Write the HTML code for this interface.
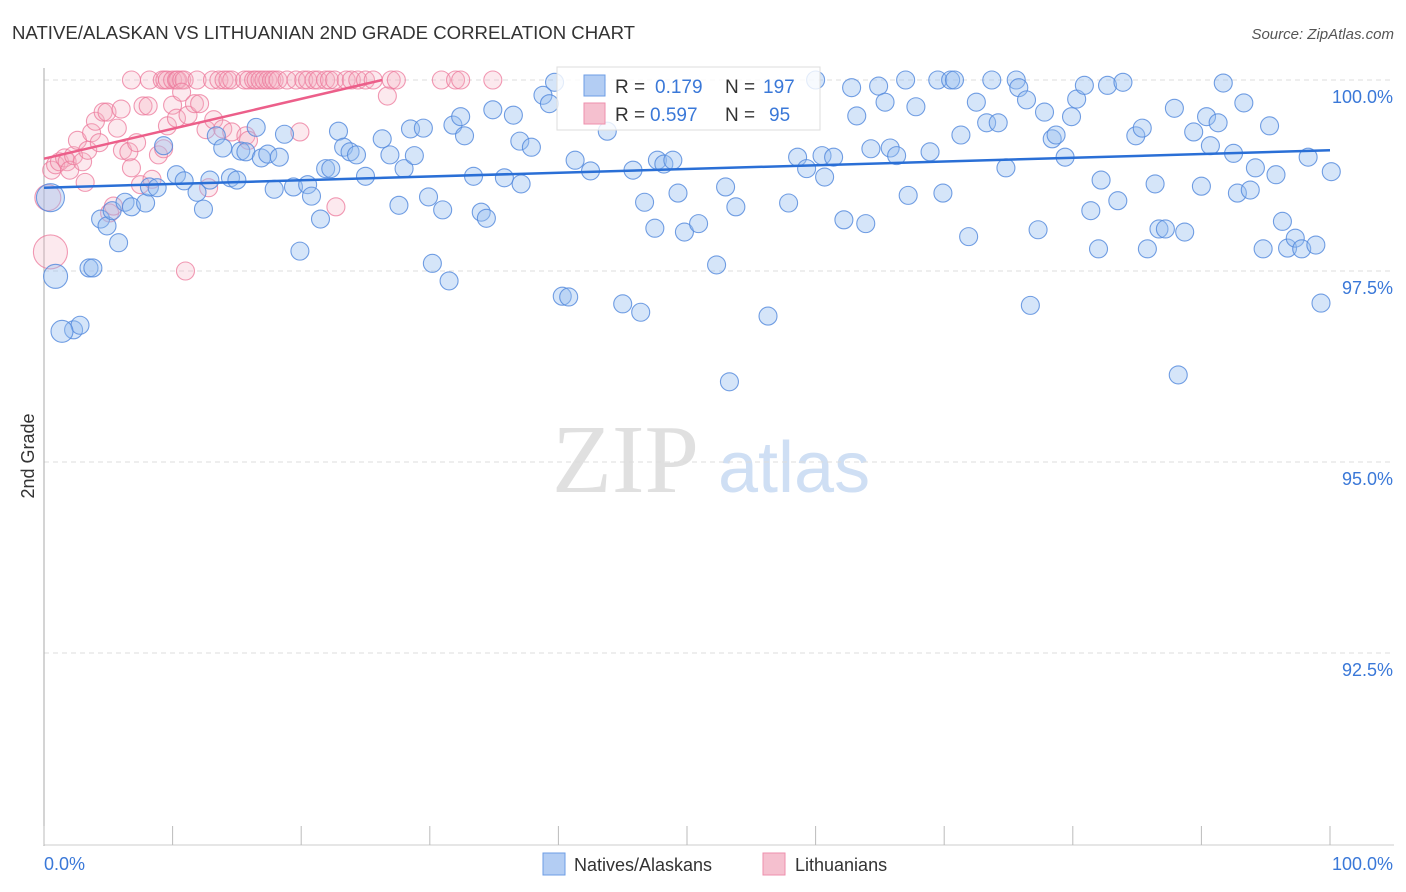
<!DOCTYPE html>
<html><head><meta charset="utf-8"><style>
body{margin:0;background:#fff;width:1406px;height:892px;overflow:hidden;font-family:"Liberation Sans",sans-serif}
svg{position:absolute;left:0;top:0}
</style></head><body>
<svg id="chart" width="1406" height="892">
<text x="12" y="39" font-size="18.6" fill="#333">NATIVE/ALASKAN VS LITHUANIAN 2ND GRADE CORRELATION CHART</text>
<text x="1394" y="39" font-size="15" fill="#555" font-style="italic" text-anchor="end">Source: ZipAtlas.com</text>
<g>
<text x="552" y="492" font-size="98" font-family="Liberation Serif,serif" fill="#e0e0e0">ZIP</text>
<text x="718" y="492" font-size="72" fill="#cfdff4">atlas</text>
</g>
<g id="grid"></g>
<g id="axes"></g>
<g id="pink"></g>
<g id="blue"></g>
<g id="trends"></g>
<g>
<rect x="557" y="67" width="263" height="63" fill="rgba(255,255,255,0.8)" stroke="#ddd"/>
<rect x="584" y="75" width="21" height="21" fill="#b3cdf3" stroke="#6d9de6"/>
<rect x="584" y="103" width="21" height="21" fill="#f5c0cf" stroke="#ee8fac"/>
<text x="615" y="93" font-size="19" fill="#333">R = </text><text x="655" y="93" font-size="19" fill="#3a78d8">0.179</text>
<text x="725" y="93" font-size="19" fill="#333">N =</text><text x="763" y="93" font-size="19" fill="#3a78d8">197</text>
<text x="615" y="121" font-size="19" fill="#333">R = </text><text x="650" y="121" font-size="19" fill="#3a78d8">0.597</text>
<text x="725" y="121" font-size="19" fill="#333">N =</text><text x="769" y="121" font-size="19" fill="#3a78d8">95</text>
</g>
<g>
<rect x="543" y="853" width="22" height="22" fill="#b3cdf3" stroke="#6d9de6"/>
<text x="574" y="871" font-size="18" fill="#333">Natives/Alaskans</text>
<rect x="763" y="853" width="22" height="22" fill="#f5c0cf" stroke="#ee8fac"/>
<text x="795" y="871" font-size="18" fill="#333">Lithuanians</text>
</g>
<text transform="translate(34,456) rotate(-90)" font-size="18" fill="#333" text-anchor="middle">2nd Grade</text>
</svg>
<script>
const yTicks=[100,97.5,95,92.5];
const yTickLabels=["100.0%","97.5%","95.0%","92.5%"];
const xEndLabels=["0.0%","100.0%"];
const blueX=[2.3,2.8,3.5,3.8,4.4,4.9,5.3,5.8,6.3,6.8,7.9,8.2,8.8,9.3,10.3,10.9,11.9,12.4,12.9,13.4,13.9,14.5,15.0,15.3,15.7,16.5,16.9,17.4,17.9,18.3,18.7,19.4,19.9,20.5,20.8,21.5,21.9,22.3,22.9,23.3,23.8,24.3,25.0,26.3,26.9,27.6,28.0,28.5,28.8,29.5,29.9,30.2,31.0,31.5,31.8,32.4,32.7,33.4,34.0,34.4,34.9,35.8,36.5,37.1,37.0,37.9,38.8,39.3,39.7,40.3,40.8,41.3,42.5,43.8,45.0,45.8,46.4,46.7,47.5,47.7,48.2,48.9,49.3,49.8,50.9,52.3,53.0,53.3,53.8,56.3,57.9,58.6,59.3,60.0,60.5,60.7,61.4,62.2,62.8,63.2,63.9,64.3,64.9,65.4,65.8,66.3,67.0,67.2,67.8,68.9,69.5,69.9,70.5,70.8,71.3,71.9,72.5,73.3,73.7,74.2,74.8,75.6,75.8,76.4,77.3,77.8,76.7,78.4,78.7,79.4,79.9,80.3,80.9,81.4,82.0,82.2,82.7,83.5,83.9,84.9,85.4,85.8,86.4,86.7,87.2,88.2,88.7,87.9,89.4,90.0,90.4,90.7,91.3,91.7,92.5,92.8,93.3,93.8,94.2,94.8,95.3,95.8,96.3,96.7,97.3,97.8,98.3,98.9,99.3,100.1];
const blueY=[96.73,96.79,97.54,97.54,98.18,98.09,98.29,97.87,98.40,98.34,98.39,98.60,98.59,99.14,98.76,98.68,98.53,98.31,98.69,99.27,99.11,98.72,98.69,99.07,99.06,99.38,98.98,99.03,98.57,98.99,99.29,98.60,97.76,98.63,98.48,98.18,98.84,98.84,99.33,99.12,99.06,99.02,98.74,99.23,99.02,98.36,98.84,99.36,99.01,99.37,98.47,97.60,98.30,97.37,99.41,99.52,99.27,98.74,98.27,98.19,99.61,98.72,99.54,98.64,99.20,99.12,99.80,99.69,99.97,97.17,97.16,98.95,98.81,99.33,97.07,98.82,96.96,98.40,98.06,98.95,98.90,98.95,98.52,98.01,98.12,97.58,98.60,96.05,98.34,96.91,98.39,98.99,98.84,100.0,99.01,98.73,98.99,98.17,99.90,99.53,98.12,99.10,99.92,99.71,99.11,99.01,100.0,98.49,99.65,99.06,100.0,98.52,100.0,100.0,99.28,97.95,99.71,99.44,100.0,99.44,98.85,100.0,99.90,99.74,98.04,99.58,97.05,99.23,99.28,98.99,99.52,99.75,99.93,98.29,97.79,98.69,99.93,98.42,99.97,99.27,99.37,97.79,98.64,98.05,98.05,96.14,98.01,99.63,99.32,98.61,99.52,99.14,99.44,99.96,99.04,98.52,99.70,98.56,98.85,97.79,99.40,98.76,98.15,97.80,97.93,97.79,98.99,97.84,97.08,98.80];
const blueLargeX=[0.5,0.9,1.4];
const blueLargeY=[98.46,97.43,96.71];
const blueLargeR=[14,12,11];
const pinkX=[6.8,8.2,9.2,9.4,9.6,10.0,10.3,10.4,10.7,10.9,11.9,13.1,13.6,14.0,14.3,14.6,15.6,15.9,16.3,16.5,16.8,17.1,17.4,17.7,17.9,18.2,18.9,19.6,20.2,20.5,21.0,21.3,21.9,22.2,22.6,23.5,23.9,24.4,25.0,25.6,27.0,27.4,30.9,32.0,32.4,34.9,26.7,0.6,0.9,1.2,1.6,1.8,2.0,2.3,2.6,3.0,3.2,3.4,3.7,4.0,4.3,4.6,4.9,5.1,5.4,5.7,6.0,6.1,6.6,6.8,7.2,7.5,7.7,8.1,8.4,8.9,9.3,9.6,10.0,10.3,10.7,11.0,11.2,11.7,12.1,12.6,12.8,13.2,13.9,14.6,15.7,15.9,19.9,22.7];
const pinkY=[100,100,100,100,100,100,100,100,100,100,100,100,100,100,100,100,100,100,100,100,100,100,100,100,100,100,100,100,100,100,100,100,100,100,100,100,100,100,100,100,100,100,100,100,100,100,99.79,98.82,98.89,98.93,98.98,98.93,98.82,99.01,99.21,98.93,98.66,99.08,99.31,99.46,99.18,99.58,99.58,98.26,98.35,99.37,99.62,99.08,99.06,98.85,99.18,98.63,99.66,99.66,98.70,99.02,99.10,99.40,99.67,99.50,99.84,97.50,99.54,99.69,99.69,99.35,98.59,99.48,99.36,99.32,99.27,99.21,99.32,98.34];
const pinkLargeX=[0.3,0.5];
const pinkLargeY=[98.46,97.75];
const pinkLargeR=[13,17];
const blueTrendX=[0,100], blueTrendY=[98.59,99.08];
const pinkTrendX=[0,26.3], pinkTrendY=[98.97,100.0];

const X0=44,X1=1330,Y100=80,PX_PER_PCT=76.4;
const sx=v=>X0+(X1-X0)*v/100;
const sy=v=>Y100+(100-v)*PX_PER_PCT;
const NS="http://www.w3.org/2000/svg";
function mk(tag,attrs,parent){const e=document.createElementNS(NS,tag);for(const k in attrs)e.setAttribute(k,attrs[k]);parent.appendChild(e);return e;}
const grid=document.getElementById('grid'),axes=document.getElementById('axes');
yTicks.forEach((t,i)=>{
  const l=mk('line',{x1:X0,x2:1394,y1:sy(t),y2:sy(t),stroke:'#ddd','stroke-dasharray':'5,4'},grid);
  
  
  const tx=mk('text',{x:1393,y:sy(t)+23,'font-size':18,fill:'#3a78d8','text-anchor':'end'},axes);
  tx.textContent=yTickLabels[i];
  
  
});
mk('line',{x1:X0,x2:X0,y1:68,y2:846,stroke:'#aaa'},axes);
mk('line',{x1:X0,x2:1394,y1:845,y2:845,stroke:'#ccc'},axes);
for(let i=0;i<=10;i++){const x=sx(i*10);const t=mk('line',{x1:x,x2:x,y1:826,y2:845,stroke:'#bbb'},axes);}
const xl0=mk('text',{x:44,y:870,'font-size':18,fill:'#3a78d8'},axes);xl0.textContent=xEndLabels[0];


const xl1=mk('text',{x:1393,y:870,'font-size':18,fill:'#3a78d8','text-anchor':'end'},axes);xl1.textContent=xEndLabels[1];


function dots(gid,xs,ys,rs,fill,stroke,name){
  const g=document.getElementById(gid);
  xs.forEach((v,i)=>{const c=mk('circle',{cx:sx(v),cy:sy(ys[i]),r:rs?rs[i]:9,fill:fill,stroke:stroke,'stroke-width':1.1},g);
  
  });
}
dots('pink',pinkX,pinkY,null,'rgba(245,175,195,0.28)','rgba(236,120,155,0.75)','lithuanian-point');
dots('pink',pinkLargeX,pinkLargeY,pinkLargeR,'rgba(245,175,195,0.28)','rgba(236,120,155,0.75)','lithuanian-point');
dots('blue',blueX,blueY,null,'rgba(150,190,240,0.4)','rgba(80,135,220,0.8)','native-point');
dots('blue',blueLargeX,blueLargeY,blueLargeR,'rgba(150,190,240,0.4)','rgba(80,135,220,0.8)','native-point');
const tr=document.getElementById('trends');
const bl=mk('line',{x1:sx(blueTrendX[0]),y1:sy(blueTrendY[0]),x2:sx(blueTrendX[1]),y2:sy(blueTrendY[1]),stroke:'#2a6fd6','stroke-width':2.5},tr);


const pl=mk('line',{x1:sx(pinkTrendX[0]),y1:sy(pinkTrendY[0]),x2:sx(pinkTrendX[1]),y2:sy(pinkTrendY[1]),stroke:'#ec5f8a','stroke-width':2.5},tr);


</script>
</body></html>
